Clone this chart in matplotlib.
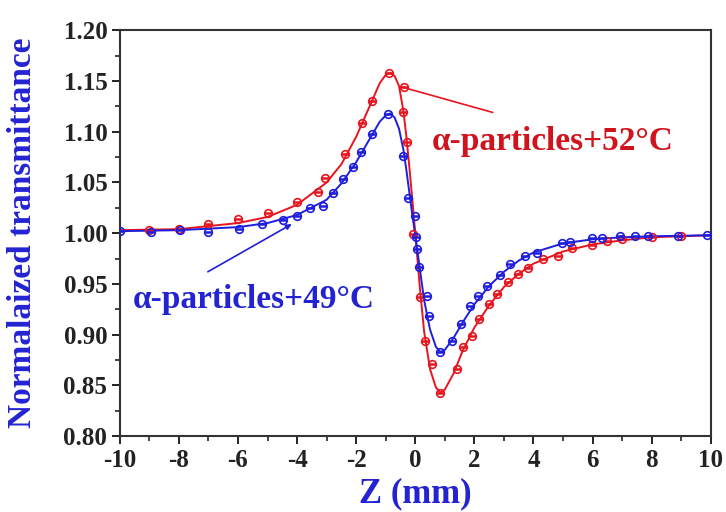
import matplotlib
matplotlib.use("Agg")
import matplotlib.pyplot as plt
from matplotlib.ticker import MultipleLocator, FormatStrFormatter

# ---------------- data ----------------
# alpha-particles + 52 C (red) experimental points
z_red = [-9.0, -8.0, -7.0, -6.0, -5.0, -4.0, -3.3, -3.06, -2.39, -1.81, -1.47, -0.90,
         -0.39, -0.42, -0.29, -0.08, 0.15, 0.32, 0.56, 0.83, 1.40, 1.61, 1.91, 2.15,
         2.49, 2.76, 3.13, 3.47, 3.81, 4.31, 4.82, 5.30, 5.97, 6.5, 7.0, 8.0, 9.0]
t_red = [1.003, 1.004, 1.009, 1.014, 1.020, 1.031, 1.041, 1.054, 1.078, 1.109, 1.130, 1.158,
         1.144, 1.119, 1.090, 0.999, 0.937, 0.894, 0.871, 0.843, 0.866, 0.888, 0.899, 0.915,
         0.930, 0.940, 0.952, 0.960, 0.966, 0.975, 0.978, 0.985, 0.988, 0.992, 0.994, 0.996, 0.997]

# alpha-particles + 49 C (blue) experimental points
z_blue = [-10.0, -8.95, -7.97, -7.02, -5.97, -5.2, -4.48, -4.0, -3.57, -3.13, -2.79, -2.45,
          -2.12, -1.84, -1.47, -0.93, -0.42, -0.25, -0.02, 0.02, 0.05, 0.12, 0.39, 0.46,
          0.83, 1.24, 1.54, 1.84, 2.11, 2.42, 2.86, 3.20, 3.71, 4.11, 4.96, 5.23, 5.97,
          6.31, 6.92, 7.43, 7.87, 8.88, 9.86]
t_blue = [1.002, 1.001, 1.003, 1.001, 1.004, 1.009, 1.013, 1.017, 1.025, 1.027, 1.040, 1.053,
          1.065, 1.080, 1.098, 1.117, 1.076, 1.035, 1.017, 0.996, 0.984, 0.967, 0.938, 0.918,
          0.883, 0.894, 0.911, 0.928, 0.938, 0.948, 0.959, 0.970, 0.978, 0.981, 0.990, 0.991, 0.995,
          0.995, 0.997, 0.997, 0.997, 0.997, 0.998]

# fitted curves
fz_red = [-10, -8, -6, -5, -4, -3, -2.5, -2, -1.5, -1.2, -1.0, -0.85, -0.7, -0.55, -0.4,
          -0.3, -0.2, -0.1, 0.0, 0.15, 0.3, 0.5, 0.7, 0.85, 1.0, 1.3, 1.6, 2.0, 2.5, 3.0,
          3.5, 4.0, 5.0, 6.0, 7.0, 8.0, 10]
ft_red = [1.003, 1.004, 1.010, 1.016, 1.028, 1.050, 1.068, 1.095, 1.128, 1.148, 1.156, 1.158,
          1.155, 1.145, 1.120, 1.095, 1.065, 1.033, 1.000, 0.948, 0.903, 0.866, 0.848, 0.843,
          0.846, 0.862, 0.884, 0.907, 0.929, 0.947, 0.960, 0.970, 0.982, 0.989, 0.993, 0.996, 0.998]

fz_blue = [-10, -8, -6, -5, -4, -3, -2.5, -2, -1.5, -1.2, -1.0, -0.85, -0.7, -0.55, -0.4,
           -0.3, -0.2, -0.1, 0.0, 0.15, 0.3, 0.5, 0.7, 0.85, 1.0, 1.3, 1.6, 2.0, 2.5, 3.0,
           3.5, 4.0, 5.0, 6.0, 7.0, 8.0, 10]
ft_blue = [1.002, 1.003, 1.006, 1.010, 1.018, 1.033, 1.049, 1.070, 1.095, 1.110, 1.116, 1.118,
           1.114, 1.103, 1.082, 1.062, 1.040, 1.018, 0.998, 0.966, 0.934, 0.905, 0.888, 0.883,
           0.885, 0.897, 0.912, 0.930, 0.948, 0.962, 0.973, 0.981, 0.990, 0.994, 0.996, 0.997, 0.998]

x_ticks = [-10, -8, -6, -4, -2, 0, 2, 4, 6, 8, 10]
y_ticks = [0.80, 0.85, 0.90, 0.95, 1.00, 1.05, 1.10, 1.15, 1.20]

label_red = "α-particles+52°C"
label_blue = "α-particles+49°C"

RED = "#E8141E"
BLUE = "#1E1EDC"
TXT_RED = "#D0141E"
TXT_BLUE = "#2323D2"

# ---------------- figure ----------------
plt.rcParams['font.family'] = ['Liberation Serif', 'DejaVu Serif']
plt.rcParams['axes.unicode_minus'] = False
fig = plt.figure(figsize=(7.26, 5.12), dpi=100)
ax = fig.add_axes([0.165, 0.148, 0.814, 0.793])

ax.plot(fz_red, ft_red, color=RED, lw=1.4, zorder=2)
ax.plot(fz_blue, ft_blue, color=BLUE, lw=1.4, zorder=3)

for z, t, c in ((z_red, t_red, RED), (z_blue, t_blue, BLUE)):
    ax.plot(z, t, ls='none', marker='o', ms=5.5, mfc='none', mec=c, mew=1.2, zorder=4)
    ax.plot(z, t, ls='none', marker='_', ms=5.5, mec=c, mew=1.8, zorder=4)

ax.set_xlim(-10, 10)
ax.set_ylim(0.80, 1.20)
ax.set_xticks(x_ticks)
ax.set_yticks(y_ticks)
ax.xaxis.set_minor_locator(MultipleLocator(1))
ax.yaxis.set_minor_locator(MultipleLocator(0.025))
ax.yaxis.set_major_formatter(FormatStrFormatter('%.2f'))
ax.tick_params(which='major', direction='out', length=6, width=1.4, colors='#222222',
               labelsize=18, pad=3)
ax.tick_params(which='minor', direction='out', length=3.5, width=1.2, colors='#222222')
for lab in ax.get_xticklabels() + ax.get_yticklabels():
    lab.set_fontweight('bold')
for s in ax.spines.values():
    s.set_linewidth(1.5)
    s.set_color('#333333')

ax.set_xlabel("Z (mm)", fontsize=25, fontweight='bold', color=TXT_BLUE)
ax.xaxis.set_label_coords(0.5, -0.1)
ax.set_ylabel("Normalaized transmittance", fontsize=24, fontweight='bold', color=TXT_BLUE)
ax.yaxis.set_label_coords(-0.138, 0.5)

# annotations
ax.annotate('', xy=(-0.45, 1.144), xytext=(2.62, 1.119),
            arrowprops=dict(arrowstyle='-', color=RED, lw=1.2, shrinkA=0, shrinkB=0))
ax.text(0.56, 1.090, label_red, fontsize=24, fontweight='bold', color=TXT_RED,
        ha='left', va='center')
ax.annotate('', xy=(-4.18, 1.009), xytext=(-7.02, 0.962),
            arrowprops=dict(arrowstyle='-|>', color=BLUE, lw=1.2, shrinkA=0, shrinkB=0,
                            mutation_scale=8))
ax.text(-9.56, 0.935, label_blue, fontsize=24, fontweight='bold', color=TXT_BLUE,
        ha='left', va='center')

fig.savefig("out.png", dpi=100)
